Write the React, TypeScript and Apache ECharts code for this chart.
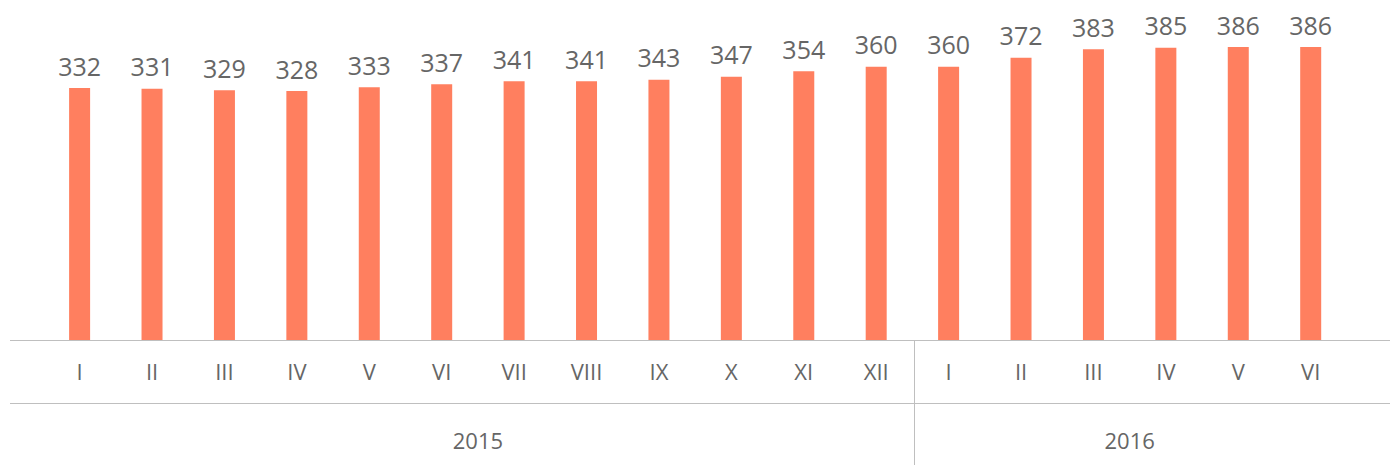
import React, { useEffect, useRef } from "react";
import * as echarts from "echarts";

const months = ["I", "II", "III", "IV", "V", "VI", "VII", "VIII", "IX", "X", "XI", "XII", "I", "II", "III", "IV", "V", "VI"];
const values = [332, 331, 329, 328, 333, 337, 341, 341, 343, 347, 354, 360, 360, 372, 383, 385, 386, 386];
const years = ["2015", "2016"];
const yearCounts = [12, 6];

const W = 1391;
const H = 465;
const GRID_LEFT = 43.4;
const GRID_RIGHT = 44.1;
const AXIS_Y = 340;
const LINE2_Y = 403;
const FONT = "'Open Sans', 'Noto Sans', sans-serif";
const TEXT = "#666666";
const LINE = "#bfbfbf";

export default function App() {
  const ref = useRef<HTMLDivElement>(null);
  useEffect(() => {
    if (!ref.current) return;
    const chart = echarts.init(ref.current, undefined, { renderer: "svg" });
    const n = months.length;
    const step = (W - GRID_LEFT - GRID_RIGHT) / n;
    const center = (i: number) => GRID_LEFT + step * (i + 0.5);

    const graphics: any[] = [
      { type: "line", shape: { x1: 10, y1: AXIS_Y + 0.5, x2: 1390, y2: AXIS_Y + 0.5 }, style: { stroke: LINE, lineWidth: 1 }, z: 10 },
      { type: "line", shape: { x1: 10, y1: LINE2_Y + 0.5, x2: 1390, y2: LINE2_Y + 0.5 }, style: { stroke: LINE, lineWidth: 1 }, z: 10 },
    ];
    let start = 0;
    years.forEach((y, k) => {
      const cnt = yearCounts[k];
      const cx = (center(start) + center(start + cnt - 1)) / 2;
      graphics.push({
        type: "text",
        x: cx,
        y: 440,
        style: { text: y, font: `22px ${FONT}`, fill: TEXT, align: "center", verticalAlign: "middle" },
      });
      start += cnt;
      if (k < years.length - 1) {
        const sx = Math.round(GRID_LEFT + step * start + 1.5) + 0.5;
        graphics.push({ type: "line", shape: { x1: sx, y1: AXIS_Y + 1, x2: sx, y2: H }, style: { stroke: LINE, lineWidth: 1 }, z: 10 });
      }
    });

    chart.setOption({
      animation: false,
      grid: { left: GRID_LEFT, right: GRID_RIGHT, top: 0, bottom: H - AXIS_Y, containLabel: false },
      xAxis: {
        type: "category",
        data: months,
        axisLine: { show: false },
        axisTick: { show: false },
        axisLabel: { color: TEXT, fontSize: 22, fontFamily: FONT, margin: 20, interval: 0 },
      },
      yAxis: {
        type: "value",
        min: 0,
        max: 448,
        show: false,
        splitLine: { show: false },
      },
      series: [
        {
          type: "bar",
          data: values,
          barWidth: 21,
          itemStyle: { color: "#FF7F5F" },
          label: { show: true, position: "top", distance: 10, color: TEXT, fontSize: 25, fontFamily: FONT },
        },
      ],
      graphic: graphics,
    });
    return () => chart.dispose();
  }, []);
  return <div ref={ref} style={{ position: "absolute", left: 0, top: 0, width: W, height: H, background: "#fff" }} />;
}
